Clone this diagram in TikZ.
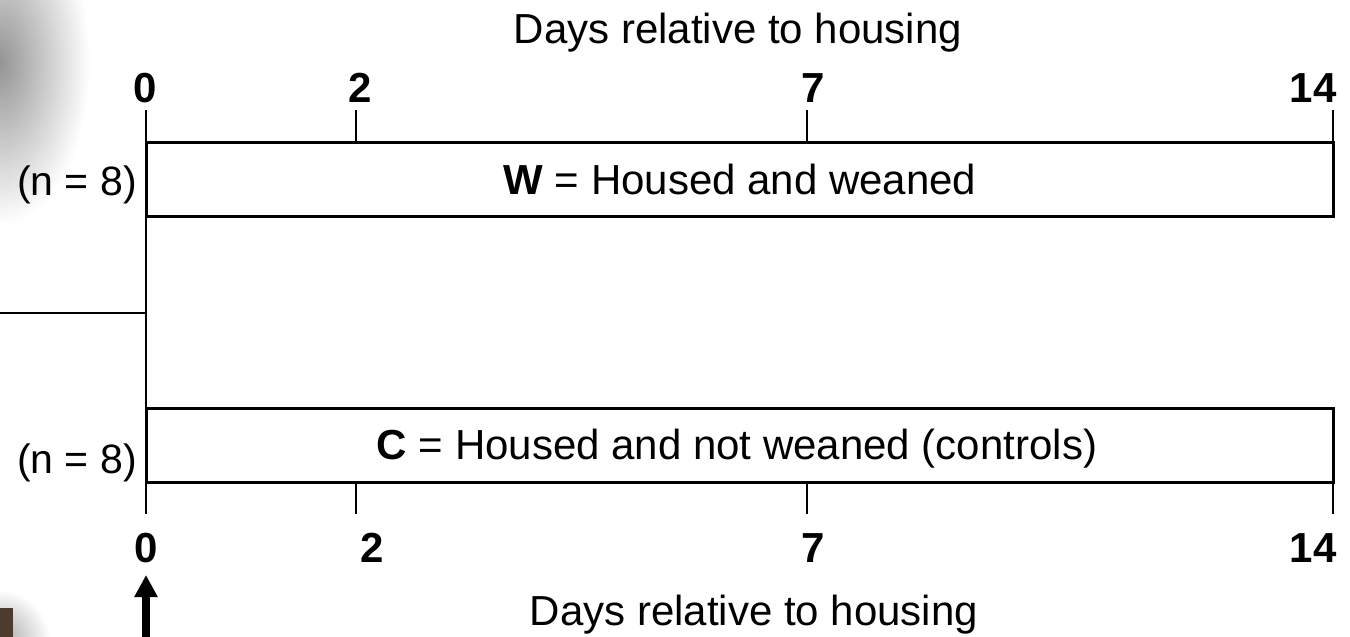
\documentclass[tikz,border=0pt]{standalone}
\usepackage{fontspec}
\setmainfont{Liberation Sans}
\usetikzlibrary{arrows.meta}
\begin{document}
\begin{tikzpicture}[x=1pt,y=-1pt,
  lbl/.style={inner sep=0pt,anchor=base,font=\fontsize{42}{48}\selectfont},
  nlbl/.style={inner sep=0pt,anchor=base east,font=\fontsize{41}{48}\selectfont},
  num/.style={inner sep=0pt,anchor=base,font=\fontsize{42}{48}\selectfont\bfseries},
  groupbox/.style={draw=black,line width=3pt,inner sep=0pt,outer sep=0pt,minimum width=1187pt,minimum height=74pt,anchor=north west},
  tickline/.style={draw=black,line width=2.8pt},
  thinline/.style={draw=black,line width=2.3pt}]
\useasboundingbox (0,0) rectangle (1350,637);
% scan artefacts at the left edge
\shade[inner color=black!42, outer color=white] (-90,-100) rectangle (90,225);
\shade[inner color=black!35, outer color=white] (-50,590) rectangle (50,690);
\fill[black!70!brown!90] (0,608) rectangle (13,637);
% titles
\node[lbl] (title) at (738,43) {Days relative to housing};
\node[lbl] (titleb) at (754,625) {Days relative to housing};
% numbers
\node[num] (t0) at (145,102) {0};
\node[num] (t2) at (360,102) {2};
\node[num] (t7) at (813,102) {7};
\node[num] (t14) at (1313,102) {14};
\node[num] (b0) at (146,562) {0};
\node[num] (b2) at (372,562) {2};
\node[num] (b7) at (813,562) {7};
\node[num] (b14) at (1313,562) {14};
% boxes
\node[groupbox] (Wbox) at (146,142) {};
\node[groupbox] (Cbox) at (146,408) {};
\node[lbl] (Wtxt) at (740,194) {\textbf{W} = Housed and weaned};
\node[lbl] (Ctxt) at (737,459) {\textbf{C} = Housed and not weaned (controls)};
\node[nlbl] (nW) at (137,195) {(n = 8)};
\node[nlbl] (nC) at (137,473) {(n = 8)};
% axis coordinates
\coordinate (top0) at (146,110);
\coordinate (top2) at (356,110);
\coordinate (top7) at (807,110);
\coordinate (top14) at (1333,110);
\coordinate (bot0) at (146,514);
\coordinate (bot2) at (356,514);
\coordinate (bot7) at (807,514);
\coordinate (bot14) at (1333,514);
\coordinate (lft) at (0,313);
% ticks and lines
\draw[tickline] (top0) -- (bot0);
\draw[tickline] (top2) -- (top2 |- Wbox.north);
\draw[tickline] (top7) -- (top7 |- Wbox.north);
\draw[thinline] (top14) -- (Wbox.north east);
\draw[tickline] (bot2) -- (bot2 |- Cbox.south);
\draw[tickline] (bot7) -- (bot7 |- Cbox.south);
\draw[thinline] (bot14) -- (Cbox.south east);
\draw[thinline] (lft) -- (lft -| top0);
% arrow
\coordinate (arrB) at (146,645);
\coordinate (arrT) at (146,575);
\draw[line width=8pt,-{Triangle[width=22pt,length=22pt]}] (arrB) -- (arrT);
\end{tikzpicture}
\end{document}
